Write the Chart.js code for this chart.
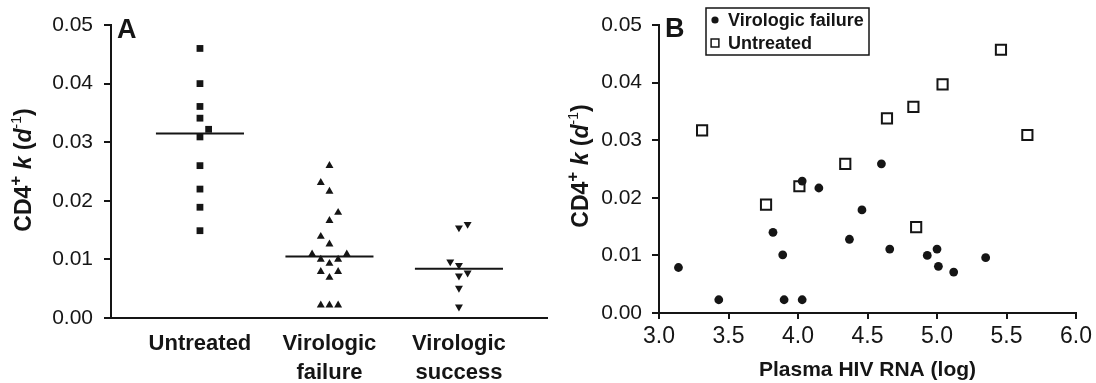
<!DOCTYPE html>
<html>
<head>
<meta charset="utf-8">
<script src="https://cdn.jsdelivr.net/npm/chart.js@4.4.1/dist/chart.umd.min.js"></script>
<style>
  html, body { margin: 0; padding: 0; background: #fff; }
  #wrap { position: relative; width: 1096px; height: 383px; }
  #boxA { position: absolute; left: 0; top: 0; width: 560px; height: 383px; }
  #boxB { position: absolute; left: 560px; top: 0; width: 536px; height: 383px; }
</style>
</head>
<body>
<div id="wrap">
  <div id="boxA"><canvas id="chartA"></canvas></div>
  <div id="boxB"><canvas id="chartB"></canvas></div>
</div>
<script>
// ---- panel A : k per group (slots = small sideways jitter column) ----
const groupsA = ['Untreated', 'Virologic failure', 'Virologic success'];
const untreatedK_A = [0.0460, 0.0400, 0.0361, 0.0341, 0.0322, 0.0309, 0.0260, 0.0220, 0.0189, 0.0149];
const untreatedSlots = [0, 0, 0, 0, 1, 0, 0, 0, 0, 0];
const failureK_A = [0.0260, 0.0231, 0.0216, 0.0180, 0.0166, 0.0139, 0.0126, 0.0109, 0.0109,
                    0.0100, 0.0093, 0.0100, 0.0079, 0.0079, 0.0069, 0.0022, 0.0022, 0.0022];
const failureSlots = [0, -1, 0, 1, 0, -1, 0, -2, 2, -1, 0, 1, -1, 1, 0, -1, 0, 1];
const successK_A = [0.0154, 0.0160, 0.0096, 0.0090, 0.0077, 0.0072, 0.0051, 0.0019];
const successSlots = [0, 1, -1, 0, 1, 0, 0, 0];
const mediansA = [0.0315, 0.0105, 0.0084];
const kTicks = [0, 0.01, 0.02, 0.03, 0.04, 0.05];

// ---- panel B : k against plasma HIV RNA ----
const failureRNA = [3.14, 3.43, 3.82, 3.89, 3.90, 4.03, 4.03, 4.15, 4.37, 4.46, 4.60, 4.66, 4.93, 5.00, 5.01, 5.12, 5.35];
const failureK   = [0.0079, 0.0023, 0.0140, 0.0101, 0.0023, 0.0023, 0.0229, 0.0217, 0.0128, 0.0179, 0.0259, 0.0111, 0.0100, 0.0111, 0.0081, 0.0071, 0.0096];
const untreatedRNA = [3.31, 3.77, 4.01, 4.34, 4.64, 4.83, 5.04, 5.46, 5.65, 4.85];
const untreatedK   = [0.0317, 0.0188, 0.0220, 0.0259, 0.0338, 0.0358, 0.0397, 0.0457, 0.0309, 0.0149];
const rnaTicks = [3.0, 3.5, 4.0, 4.5, 5.0, 5.5, 6.0];

const INK = '#151515';
const FONT = '"Liberation Sans", Arial, Helvetica, sans-serif';
const slotStep = 0.067;
const medianHalf = 0.34;

Chart.defaults.font.family = FONT;
Chart.defaults.color = INK;
Chart.defaults.animation = false;

// rotated y title with superscripts/italics + panel letter
const decorPlugin = {
  id: 'decor',
  afterDraw(chart, args, o) {
    const ctx = chart.ctx;
    const s = 23;
    const parts = [
      { t: 'CD4', f: `bold ${s}px ${FONT}`, dy: 0 },
      { t: '+', f: `bold ${Math.round(s * 0.72)}px ${FONT}`, dy: -s * 0.38 },
      { t: ' ', f: `bold ${s}px ${FONT}`, dy: 0 },
      { t: 'k', f: `italic bold ${s}px ${FONT}`, dy: 0 },
      { t: ' (', f: `bold ${s}px ${FONT}`, dy: 0 },
      { t: 'd', f: `italic bold ${s}px ${FONT}`, dy: 0 },
      { t: '-1', f: `${Math.round(s * 0.62)}px ${FONT}`, dy: -s * 0.36 },
      { t: ')', f: `bold ${s}px ${FONT}`, dy: 0 }
    ];
    ctx.save();
    let total = 0;
    parts.forEach(p => { ctx.font = p.f; p.w = ctx.measureText(p.t).width; total += p.w; });
    ctx.translate(o.titleX, o.titleY);
    ctx.rotate(-Math.PI / 2);
    ctx.fillStyle = INK;
    ctx.textBaseline = 'middle';
    ctx.textAlign = 'left';
    let x = -total / 2;
    parts.forEach(p => { ctx.font = p.f; ctx.fillText(p.t, x, p.dy); x += p.w; });
    ctx.restore();

    ctx.save();
    ctx.font = `bold 27px ${FONT}`;
    ctx.fillStyle = INK;
    ctx.textBaseline = 'alphabetic';
    ctx.fillText(o.letter, o.letterX, o.letterY);
    ctx.restore();
  }
};

// boxed legend for panel B
const boxLegendPlugin = {
  id: 'boxLegend',
  afterDraw(chart, args, o) {
    if (!o.show) return;
    const ctx = chart.ctx;
    ctx.save();
    ctx.lineWidth = 1.5;
    ctx.strokeStyle = INK;
    ctx.strokeRect(o.x, o.y, o.w, o.h);
    chart.data.datasets.forEach((ds, i) => {
      const cy = o.y + o.first + i * o.step;
      ctx.fillStyle = ds.backgroundColor;
      ctx.strokeStyle = ds.borderColor;
      ctx.lineWidth = o.markerBorder[i];
      Chart.helpers.drawPoint(ctx, { pointStyle: ds.pointStyle, radius: o.markerRadius[i], borderWidth: o.markerBorder[i], rotation: 0 }, o.x + 9, cy);
      ctx.fillStyle = INK;
      ctx.font = `bold 18px ${FONT}`;
      ctx.textBaseline = 'middle';
      ctx.fillText(ds.label, o.x + 22, cy + 1);
    });
    ctx.restore();
  }
};

function kAxis(width, padding) {
  return {
    type: 'linear', min: 0, max: 0.05,
    afterBuildTicks: s => { s.ticks = kTicks.map(v => ({ value: v })); },
    afterFit: s => { s.width = width; },
    ticks: { font: { size: 21 }, padding: padding, color: INK, callback: v => v.toFixed(2) },
    grid: { drawOnChartArea: false, color: INK, lineWidth: 2, tickLength: 7 },
    border: { color: INK, width: 2 }
  };
}

function groupPoints(values, slots, gi) {
  return values.map((v, i) => ({ x: gi + 1 + slots[i] * slotStep, y: v }));
}

// ---- chart A ----
const medianSets = mediansA.map((m, i) => ({
  type: 'line',
  data: [{ x: i + 1 - medianHalf, y: m }, { x: i + 1 + medianHalf, y: m }],
  borderColor: INK, borderWidth: 2, pointRadius: 0, showLine: true, fill: false
}));

new Chart(document.getElementById('chartA'), {
  type: 'scatter',
  data: {
    datasets: [
      { label: groupsA[0], data: groupPoints(untreatedK_A, untreatedSlots, 0), pointStyle: 'rect', radius: 4.8, backgroundColor: INK, borderColor: INK, borderWidth: 0 },
      { label: groupsA[1], data: groupPoints(failureK_A, failureSlots, 1), pointStyle: 'triangle', radius: 4.6, backgroundColor: INK, borderColor: INK, borderWidth: 0 },
      { label: groupsA[2], data: groupPoints(successK_A, successSlots, 2), pointStyle: 'triangle', rotation: 180, radius: 4.6, backgroundColor: INK, borderColor: INK, borderWidth: 0 },
      ...medianSets
    ]
  },
  options: {
    responsive: true, maintainAspectRatio: false,
    layout: { padding: { top: 25, right: 13, left: 0, bottom: 0 } },
    plugins: {
      legend: { display: false }, tooltip: { enabled: false },
      decor: { titleX: 25, titleY: 170, letter: 'A', letterX: 117, letterY: 38 },
      boxLegend: { show: false }
    },
    scales: {
      x: {
        type: 'linear', min: 0.313, max: 3.68,
        afterBuildTicks: s => { s.ticks = groupsA.map((g, i) => ({ value: i + 1 })); },
        afterFit: s => { s.height = 65; },
        ticks: { autoSkip: false, maxRotation: 0, padding: 12, color: INK,
                 font: { size: 22, weight: 'bold', lineHeight: 1.3 },
                 callback: v => groupsA[Math.round(v) - 1].split(' ') },
        grid: { display: false, drawTicks: false, tickLength: 0 },
        border: { color: INK, width: 2 }
      },
      y: kAxis(111, 11)
    }
  },
  plugins: [decorPlugin, boxLegendPlugin]
});

// ---- chart B ----
new Chart(document.getElementById('chartB'), {
  type: 'scatter',
  data: {
    datasets: [
      { label: 'Virologic failure', data: failureRNA.map((x, i) => ({ x: x, y: failureK[i] })),
        pointStyle: 'circle', radius: 4.4, backgroundColor: INK, borderColor: INK, borderWidth: 0 },
      { label: 'Untreated', data: untreatedRNA.map((x, i) => ({ x: x, y: untreatedK[i] })),
        pointStyle: 'rect', radius: 7.2, backgroundColor: '#ffffff', borderColor: INK, borderWidth: 2 }
    ]
  },
  options: {
    responsive: true, maintainAspectRatio: false,
    layout: { padding: { top: 25, right: 18, left: 0, bottom: 0 } },
    plugins: {
      legend: { display: false }, tooltip: { enabled: false },
      decor: { titleX: 22, titleY: 166, letter: 'B', letterX: 105, letterY: 37 },
      boxLegend: { show: true, x: 146, y: 8, w: 163, h: 47, first: 12, step: 23,
                   markerRadius: [3.6, 5.5], markerBorder: [0, 1.5] }
    },
    scales: {
      x: {
        type: 'linear', min: 3, max: 6,
        afterBuildTicks: s => { s.ticks = rnaTicks.map(v => ({ value: v })); },
        afterFit: s => { s.height = 70; },
        ticks: { font: { size: 23 }, padding: 4, color: INK, callback: v => v.toFixed(1) },
        grid: { drawOnChartArea: false, color: INK, lineWidth: 2, tickLength: 6 },
        border: { color: INK, width: 2 },
        title: { display: true, text: 'Plasma HIV RNA (log)', color: INK,
                 font: { size: 21, weight: 'bold' }, padding: { top: 0, bottom: 0 } }
      },
      y: kAxis(99, 10)
    }
  },
  plugins: [decorPlugin, boxLegendPlugin]
});
</script>
</body>
</html>
